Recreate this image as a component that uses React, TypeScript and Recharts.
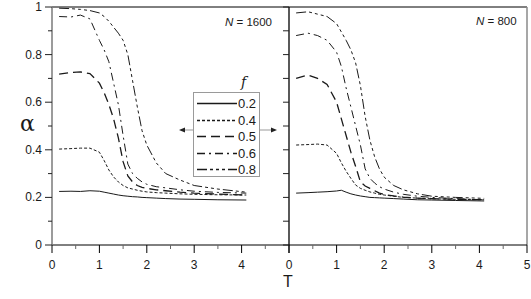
import React from 'react';
import { LineChart, Line, XAxis, YAxis, ReferenceLine, Legend } from 'recharts';

const T = [0.15, 0.4, 0.6, 0.8, 1.0, 1.1, 1.2, 1.3, 1.4, 1.5, 1.6, 1.7, 1.8, 1.9, 2.0, 2.2, 2.4, 2.7, 3.0, 3.5, 4.1];

const f02_1600 = [0.225, 0.226, 0.225, 0.228, 0.226, 0.222, 0.218, 0.214, 0.21, 0.207, 0.205, 0.203, 0.202, 0.2, 0.199, 0.197, 0.195, 0.193, 0.192, 0.19, 0.189];
const f04_1600 = [0.403, 0.405, 0.407, 0.407, 0.39, 0.355, 0.315, 0.286, 0.265, 0.25, 0.24, 0.235, 0.23, 0.226, 0.223, 0.22, 0.218, 0.215, 0.213, 0.211, 0.21];
const f05_1600 = [0.718, 0.725, 0.727, 0.72, 0.68, 0.64, 0.59, 0.53, 0.45, 0.35, 0.29, 0.265, 0.25, 0.242, 0.238, 0.232, 0.228, 0.222, 0.218, 0.214, 0.21];
const f06_1600 = [0.96, 0.958, 0.966, 0.95, 0.86, 0.82, 0.77, 0.68, 0.59, 0.46, 0.34, 0.3, 0.28, 0.265, 0.255, 0.245, 0.24, 0.232, 0.226, 0.221, 0.218];
const f08_1600 = [0.995, 0.993, 0.99, 0.985, 0.975, 0.96, 0.94, 0.915, 0.89, 0.86, 0.8, 0.69, 0.58, 0.48, 0.42, 0.345, 0.3, 0.273, 0.25, 0.235, 0.222];

const f02_800 = [0.218, 0.22, 0.222, 0.224, 0.227, 0.23, 0.222, 0.215, 0.21, 0.206, 0.203, 0.2, 0.199, 0.198, 0.197, 0.195, 0.193, 0.19, 0.189, 0.187, 0.185];
const f04_800 = [0.42, 0.422, 0.424, 0.42, 0.385, 0.345, 0.31, 0.28, 0.252, 0.238, 0.23, 0.223, 0.218, 0.213, 0.21, 0.205, 0.2, 0.197, 0.194, 0.192, 0.19];
const f05_800 = [0.7, 0.714, 0.7, 0.675, 0.6, 0.53, 0.46, 0.39, 0.33, 0.265, 0.248, 0.238, 0.228, 0.218, 0.212, 0.206, 0.201, 0.197, 0.195, 0.192, 0.19];
const f06_800 = [0.88, 0.89, 0.88, 0.86, 0.81, 0.75, 0.66, 0.58, 0.5, 0.42, 0.32, 0.28, 0.26, 0.245, 0.235, 0.222, 0.213, 0.205, 0.2, 0.195, 0.19];
const f08_800 = [0.975, 0.98, 0.97, 0.96, 0.93, 0.895, 0.86, 0.82, 0.765, 0.67, 0.54, 0.44, 0.37, 0.32, 0.285, 0.25, 0.232, 0.215, 0.205, 0.2, 0.196];

const fLabels = ['0.2', '0.4', '0.5', '0.6', '0.8'];
const xTicks = [0, 0.5, 1, 1.5, 2, 2.5, 3, 3.5, 4, 4.5, 5];
const yTicks = [0, 0.1, 0.2, 0.3, 0.4, 0.5, 0.6, 0.7, 0.8, 0.9, 1];

const dashes = ['', '3 2', '9 5', '8 4 2 4', '10 3 3 3 3 3 3 3'];
const widths = [1, 1, 1.3, 1, 1];
const keys = ['s02', 's04', 's05', 's06', 's08'];

const buildRows = (series: number[][]) =>
  T.map((t, i) => {
    const row: any = { T: t };
    keys.forEach((k, j) => (row[k] = series[j][i]));
    return row;
  });

const data1600 = buildRows([f02_1600, f04_1600, f05_1600, f06_1600, f08_1600]);
const data800 = buildRows([f02_800, f04_800, f05_800, f06_800, f08_800]);

const FONT = '"Liberation Sans", Arial, sans-serif';
const INK = '#1a1a1a';

const makeXTick = (showFive: boolean) => (props: any) => {
  const { x, y, payload } = props;
  const v = payload.value;
  const isInt = Math.abs(v - Math.round(v)) < 1e-6;
  const len = isInt ? 8 : 4;
  const show = isInt && (showFive || v < 4.5);
  return (
    <g>
      <line x1={x} x2={x} y1={y} y2={y + len} stroke={isInt ? '#000' : '#666'} strokeWidth={1} />
      {show && (
        <text x={x} y={y + 24} textAnchor="middle" fontFamily={FONT} fontSize={12} fill={INK}>
          {String(Math.round(v))}
        </text>
      )}
    </g>
  );
};

const makeYTick = (labels: boolean) => (props: any) => {
  const { x, y, payload } = props;
  const v = payload.value;
  const tenth = Math.round(v * 10);
  const major = tenth % 2 === 0;
  const len = labels ? (major ? 7 : 4) : 6;
  return (
    <g>
      <line x1={x - len} x2={x} y1={y} y2={y} stroke="#222" strokeWidth={1} />
      {labels && major && (
        <text x={x - 10} y={y + 4} textAnchor="end" fontFamily={FONT} fontSize={12} fill={INK}>
          {tenth === 10 ? '1' : tenth === 0 ? '0' : (tenth / 10).toFixed(1)}
        </text>
      )}
    </g>
  );
};

const LegendBox = () => (
  <div style={{ position: 'relative', width: 67, height: 106, fontFamily: FONT }}>
    <div
      style={{
        position: 'absolute',
        left: 48,
        top: 2,
        fontFamily: '"DejaVu Serif", "Liberation Serif", serif',
        fontStyle: 'italic',
        fontSize: 14,
        color: INK,
      }}
    >
      f
    </div>
    <div
      style={{
        position: 'absolute',
        left: 0,
        top: 20,
        width: 65,
        height: 83,
        border: '1px solid #9a9a9a',
        background: '#fff',
      }}
    >
      {fLabels.map((lab, i) => (
        <div key={lab} style={{ position: 'absolute', left: 3, top: 3 + i * 16.5, height: 15, width: 62 }}>
          <svg width={40} height={15} style={{ position: 'absolute', left: 0, top: 0 }}>
            <line x1={0} x2={40} y1={7.5} y2={7.5} stroke={INK} strokeWidth={widths[i] + 0.3} strokeDasharray={dashes[i]} />
          </svg>
          <span style={{ position: 'absolute', left: 41, top: 0, fontSize: 13, lineHeight: '15px', color: INK }}>{lab}</span>
        </div>
      ))}
    </div>
  </div>
);

const renderLines = () =>
  keys.map((k, i) => (
    <Line
      key={k}
      dataKey={k}
      type="linear"
      stroke={INK}
      strokeWidth={widths[i]}
      strokeDasharray={dashes[i] || undefined}
      dot={false}
      activeDot={false}
      isAnimationActive={false}
    />
  ));

export default function App() {
  return (
    <div style={{ position: 'absolute', left: 0, top: 0, width: 531, height: 299, background: '#fff', overflow: 'hidden' }}>
      <div style={{ position: 'absolute', left: 0, top: 0 }}>
        <LineChart width={290} height={299} data={data1600} margin={{ top: 7, right: 1, bottom: 24, left: 0 }}>
          <XAxis
            dataKey="T"
            type="number"
            domain={[0, 5]}
            ticks={xTicks}
            interval={0}
            tickSize={0}
            tickMargin={0}
            tickLine={false}
            tick={makeXTick(false)}
            axisLine={{ stroke: '#000', strokeWidth: 1 }}
            height={30}
          />
          <YAxis
            type="number"
            domain={[0, 1]}
            ticks={yTicks}
            interval={0}
            tickSize={0}
            tickMargin={0}
            tickLine={false}
            tick={makeYTick(true)}
            axisLine={{ stroke: '#7a7a7a', strokeWidth: 1.5 }}
            width={52}
          />
          <ReferenceLine y={1} stroke="#000" strokeWidth={1} />
          {renderLines()}
          <Legend
            layout="horizontal"
            verticalAlign="middle"
            align="center"
            content={() => <LegendBox />}
            wrapperStyle={{ position: 'absolute', left: 193, top: 72, width: 67, height: 106 }}
          />
        </LineChart>
      </div>
      <div style={{ position: 'absolute', left: 279, top: 0 }}>
        <LineChart width={252} height={299} data={data800} margin={{ top: 7, right: 4, bottom: 24, left: 0 }}>
          <XAxis
            dataKey="T"
            type="number"
            domain={[0, 5]}
            ticks={xTicks}
            interval={0}
            tickSize={0}
            tickMargin={0}
            tickLine={false}
            tick={makeXTick(true)}
            axisLine={{ stroke: '#000', strokeWidth: 1 }}
            height={30}
          />
          <YAxis
            type="number"
            domain={[0, 1]}
            ticks={yTicks}
            interval={0}
            tickSize={0}
            tickMargin={0}
            tickLine={false}
            tick={makeYTick(false)}
            axisLine={{ stroke: '#000', strokeWidth: 1.3 }}
            width={10}
          />
          <ReferenceLine y={1} stroke="#000" strokeWidth={1} />
          <ReferenceLine x={5} stroke="#8a8a8a" strokeWidth={1.5} />
          {renderLines()}
        </LineChart>
      </div>
      <svg width={531} height={299} style={{ position: 'absolute', left: 0, top: 0, pointerEvents: 'none' }}>
        <line x1={184} x2={193} y1={130} y2={130} stroke="#999" strokeWidth={1} />
        <polygon points="179,130 185,127.5 185,132.5" fill="#222" />
        <line x1={259} x2={272} y1={130} y2={130} stroke="#999" strokeWidth={1} />
        <polygon points="277,130 271,127.5 271,132.5" fill="#222" />
      </svg>
      <div style={{ position: 'absolute', left: 225, top: 16, fontFamily: FONT, fontSize: 11.5, color: INK, whiteSpace: 'nowrap' }}>
        <i>N</i> = 1600
      </div>
      <div style={{ position: 'absolute', left: 476, top: 15, fontFamily: FONT, fontSize: 11.5, color: INK, whiteSpace: 'nowrap' }}>
        <i>N</i> = 800
      </div>
      <div
        style={{
          position: 'absolute',
          left: 20,
          top: 112,
          fontFamily: '"DejaVu Serif", "Liberation Serif", serif',
          fontSize: 22,
          color: INK,
          lineHeight: '24px',
        }}
      >
        α
      </div>
      <div style={{ position: 'absolute', left: 283, top: 273, fontFamily: FONT, fontSize: 16, color: INK, lineHeight: '18px' }}>
        T
      </div>
    </div>
  );
}
